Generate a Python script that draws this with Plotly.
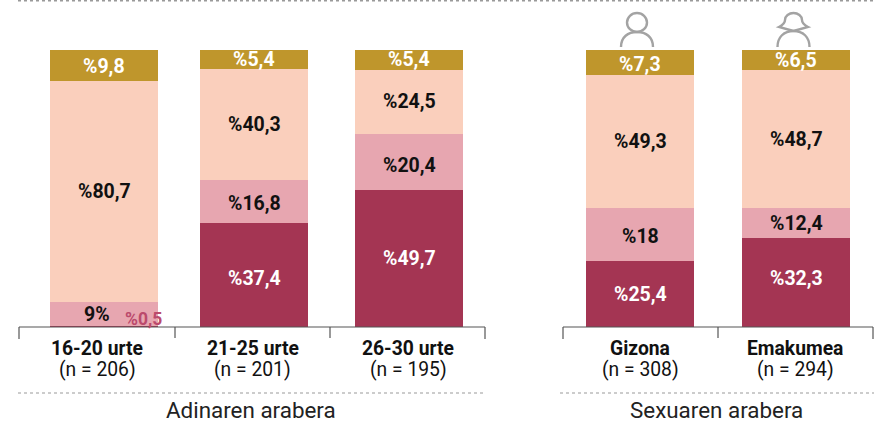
import plotly.graph_objects as go

categories = ["16-20 urte", "21-25 urte", "26-30 urte", "Gizona", "Emakumea"]
sample_sizes = ["(n = 206)", "(n = 201)", "(n = 195)", "(n = 308)", "(n = 294)"]
group_titles = ["Adinaren arabera", "Sexuaren arabera"]
# Segment heights as drawn in the picture (the printed labels differ slightly)
dark_values = [0.5, 37.5, 49.5, 23.8, 32.1]
rose_values = [8.5, 15.5, 20.2, 19.1, 10.8]
peach_values = [79.8, 40.1, 23.1, 48.0, 49.8]
gold_values = [11.2, 6.9, 7.2, 9.1, 7.3]
# Printed labels
dark_labels = ["%0,5", "%37,4", "%49,7", "%25,4", "%32,3"]
rose_labels = ["9%", "%16,8", "%20,4", "%18", "%12,4"]
peach_labels = ["%80,7", "%40,3", "%24,5", "%49,3", "%48,7"]
gold_labels = ["%9,8", "%5,4", "%5,4", "%7,3", "%6,5"]

# Layout (page pixels)
W, H = 877, 422
BASE, TOP = 327, 50
UNIT = (BASE - TOP) / 100
centres = [104, 254, 409, 640, 796]
label_centres = [97, 252.5, 408, 640, 795]
BAR_W = 108
FONT = "Roboto"
# label offsets in pixels, upward positive
dark_shift = [0, -3, 0, 0, 4]
rose_shift = [0, -2, -4, -2, 0]
gold_shift = [-1, 0, 0, -2, 0]

def yv(py):
    return (BASE - py) / UNIT

fig = go.Figure()
series = [
    ("#a43553", dark_values),
    ("#e7a6b0", rose_values),
    ("#facfbc", peach_values),
    ("#bf962c", gold_values),
]
for colour, vals in series:
    fig.add_bar(x=centres, y=vals, width=BAR_W, marker_color=colour,
                marker_line_width=0, hoverinfo="skip", showlegend=False)

anns = []
def note(x, y, text, colour="#111111", size=19.5, bold=True, xshift=0, yshift=0):
    anns.append(dict(x=x, y=y, text=f"<b>{text}</b>" if bold else text, showarrow=False,
                     xref="x", yref="y", xanchor="center", yanchor="middle",
                     xshift=xshift, yshift=yshift,
                     font=dict(family=FONT, size=size, color=colour)))

for i, c in enumerate(centres):
    d, r, p, g = dark_values[i], rose_values[i], peach_values[i], gold_values[i]
    if i == 0:
        note(c, d + r / 2, rose_labels[i], xshift=-7, yshift=-1)
        note(c, d / 2, dark_labels[i], colour="#bb4a6c", size=17.5, xshift=39, yshift=7)
    else:
        note(c, d / 2, dark_labels[i], colour="#ffffff", yshift=dark_shift[i])
        note(c, d + r / 2, rose_labels[i], yshift=rose_shift[i])
    note(c, d + r + p / 2, peach_labels[i])
    note(c, d + r + p + g / 2, gold_labels[i], colour="#ffffff", yshift=gold_shift[i])
    note(label_centres[i], yv(348), categories[i], size=19.3)
    note(label_centres[i], yv(369), sample_sizes[i], size=19.3, bold=False)

note(251, yv(409.5), group_titles[0], colour="#222222", size=22.4, bold=False)
note(716, yv(409.5), group_titles[1], colour="#222222", size=22.4, bold=False)

shapes = []
def line(x0, py0, x1, py1, colour="#555555", width=1.2, dash="solid"):
    shapes.append(dict(type="line", xref="x", yref="y", x0=x0, x1=x1,
                       y0=yv(py0), y1=yv(py1), layer="above",
                       line=dict(color=colour, width=width, dash=dash)))

for ticks in [(19, 175, 330, 485), (563, 718, 873)]:
    line(ticks[0], 327, ticks[-1], 327)
    for k, t in enumerate(ticks):
        line(t, 327, t, 339 if k in (0, len(ticks) - 1) else 338)

line(18, 393, 486, 393, colour="#999999", width=1, dash="dot")
line(560, 393, 874, 393, colour="#999999", width=1, dash="dot")
line(18, 0.7, 875, 0.7, colour="#999999", width=1.5, dash="dot")

ICON = "#a3a3a3"

def icon_shape(d):
    shapes.append(dict(type="path", xref="x", yref="y", path=d, layer="above",
                       line=dict(color=ICON, width=2.4), fillcolor="rgba(0,0,0,0)"))

def M(px, py):
    return f"M {px},{yv(py):.3f}"

def L(px, py):
    return f"L {px},{yv(py):.3f}"

def C(*pts):
    out = []
    for j in range(0, len(pts), 3):
        out.append("C " + " ".join(f"{px},{yv(py):.3f}" for px, py in pts[j:j + 3]))
    return " ".join(out)

# man
shapes.append(dict(type="circle", xref="x", yref="y", x0=627, x1=647, y0=yv(32), y1=yv(13),
                   layer="above", line=dict(color=ICON, width=2.4)))
icon_shape(M(621, 47) + " " + C((621, 37), (628, 32), (637, 32), (646, 32), (653, 37), (653, 47)))
# woman
icon_shape(M(777.5, 47) + " " + C((777.5, 37), (784, 31), (793.5, 31), (803, 31), (809.5, 37), (809.5, 47)))
icon_shape(M(793.5, 31) + " " + L(779, 27) + " " +
           C((783, 25), (785, 22), (785, 20), (785, 16), (789, 13), (793.5, 13),
             (798, 13), (802, 16), (802, 20), (802, 22), (804, 25), (808, 27)) +
           " " + L(793.5, 31))

fig.update_layout(
    width=W, height=H, barmode="stack", bargap=0,
    margin=dict(l=0, r=0, t=0, b=0), autosize=False,
    paper_bgcolor="#ffffff", plot_bgcolor="#ffffff",
    xaxis=dict(range=[0, W], visible=False, fixedrange=True),
    yaxis=dict(range=[yv(H), yv(0)], visible=False, fixedrange=True),
    annotations=anns, shapes=shapes,
)
fig.write_html("out.html", config={"displayModeBar": False},
               post_script="document.body.style.margin='0';document.body.style.overflow='hidden';")
